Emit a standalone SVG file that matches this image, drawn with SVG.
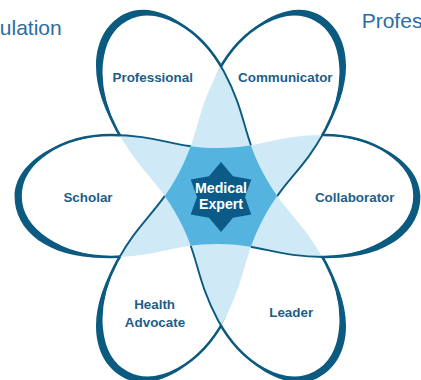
<svg xmlns="http://www.w3.org/2000/svg" xmlns:xlink="http://www.w3.org/1999/xlink" width="421" height="380" viewBox="0 0 421 380">
  <style>
    .outline { fill: none; stroke: #0b5a80; stroke-width: 2.6; }
    .inner { fill: none; stroke: #0b5a80; stroke-width: 1.9; }
    .tip { fill: #0b5a80; }
    .light { fill: #cfe9f6; }
    .mid { fill: #55b3df; }
    .star { fill: #0c5a87; }
    .label { font-family: "Liberation Sans", Arial, sans-serif; font-weight: bold; font-size: 13.4px; fill: #1d5e88; text-anchor: middle; }
    .core { font-family: "Liberation Sans", Arial, sans-serif; font-weight: bold; font-size: 14.2px; fill: #ffffff; text-anchor: middle; }
    .heading { font-family: "Liberation Sans", Arial, sans-serif; font-size: 21px; fill: #2b6ca3; }
  </style>
  <defs>
    <path id="shape" d="M -200 0 C -200 -33.7 -158.8 -61 -108 -61 C -60 -61 -45 -48 0 -48 C 45 -48 60 -61 108 -61 C 158.8 -61 200 -33.7 200 0 C 200 33.7 158.8 61 108 61 C 60 61 45 48 0 48 C -45 48 -60 61 -108 61 C -158.8 61 -200 33.7 -200 0 Z"/>
    <path id="tipA" d="M 100 -61 C 158.8 -61 200 -33.7 200 0 C 200 33.7 158.8 61 100 61 C 165 67 206.5 38 206 0 C 205.5 -34 160 -62.5 100 -61 Z"/>
    <path id="tipB" d="M 100 61 C 158.8 61 200 33.7 200 0 C 200 -33.7 158.8 -61 100 -61 C 165 -67 206.5 -38 206 0 C 205.5 34 160 62.5 100 61 Z"/>
    <path id="holed" clip-rule="evenodd" d="M -1000 -1000 H 1000 V 1000 H -1000 Z M -200 0 C -200 -33.7 -158.8 -61 -108 -61 C -60 -61 -45 -48 0 -48 C 45 -48 60 -61 108 -61 C 158.8 -61 200 -33.7 200 0 C 200 33.7 158.8 61 108 61 C 60 61 45 48 0 48 C -45 48 -60 61 -108 61 C -158.8 61 -200 33.7 -200 0 Z"/>
    <clipPath id="clipH"><use xlink:href="#shape" transform="translate(217.5 196) scale(0.985 1)"/></clipPath>
    <clipPath id="clipP"><use xlink:href="#shape" transform="translate(221 196) rotate(62)"/></clipPath>
    <clipPath id="clipC"><use xlink:href="#shape" transform="translate(221 196) rotate(-62)"/></clipPath>
    <clipPath id="outH"><use xlink:href="#holed" clip-rule="evenodd" transform="translate(217.5 196) scale(0.985 1)"/></clipPath>
    <clipPath id="outP"><use xlink:href="#holed" clip-rule="evenodd" transform="translate(221 196) rotate(62)"/></clipPath>
    <clipPath id="outC"><use xlink:href="#holed" clip-rule="evenodd" transform="translate(221 196) rotate(-62)"/></clipPath>
  </defs>

  <rect width="421" height="380" fill="#ffffff"/>

  <!-- light blue pairwise overlaps -->
  <g id="overlaps">
    <g clip-path="url(#clipC)"><use xlink:href="#shape" class="light" transform="translate(221 196) rotate(62)"/></g>
    <g clip-path="url(#clipH)"><use xlink:href="#shape" class="light" transform="translate(221 196) rotate(-62)"/></g>
    <g clip-path="url(#clipP)"><use xlink:href="#shape" class="light" transform="translate(217.5 196) scale(0.985 1)"/></g>
  </g>

  <!-- petal outlines (woven) -->
  <g id="ring-scholar-collaborator">
    <g clip-path="url(#outC)"><g clip-path="url(#outP)"><use xlink:href="#shape" class="outline" transform="translate(217.5 196) scale(0.985 1)"/></g></g>
    <g clip-path="url(#outC)"><g clip-path="url(#clipP)"><use xlink:href="#shape" class="inner" transform="translate(217.5 196) scale(0.985 1)"/></g></g>
    <use xlink:href="#tipA" class="tip" transform="translate(217.5 196) scale(0.985 1)"/>
    <use xlink:href="#tipB" class="tip" transform="translate(217.5 196) scale(0.985 1) rotate(180)"/>
  </g>
  <g id="ring-professional-leader">
    <g clip-path="url(#outH)"><g clip-path="url(#outC)"><use xlink:href="#shape" class="outline" transform="translate(221 196) rotate(62)"/></g></g>
    <g clip-path="url(#outH)"><g clip-path="url(#clipC)"><use xlink:href="#shape" class="inner" transform="translate(221 196) rotate(62)"/></g></g>
    <use xlink:href="#tipB" class="tip" transform="translate(221 196) rotate(62)"/>
    <use xlink:href="#tipB" class="tip" transform="translate(221 196) rotate(242)"/>
  </g>
  <g id="ring-communicator-advocate">
    <g clip-path="url(#outP)"><g clip-path="url(#outH)"><use xlink:href="#shape" class="outline" transform="translate(221 196) rotate(-62)"/></g></g>
    <g clip-path="url(#outP)"><g clip-path="url(#clipH)"><use xlink:href="#shape" class="inner" transform="translate(221 196) rotate(-62)"/></g></g>
    <use xlink:href="#tipA" class="tip" transform="translate(221 196) rotate(-62)"/>
    <use xlink:href="#tipA" class="tip" transform="translate(221 196) rotate(118)"/>
  </g>

  <!-- centre -->
  <g id="medical-expert">
    <g clip-path="url(#clipP)"><g clip-path="url(#clipC)"><use xlink:href="#shape" class="mid" transform="translate(217.5 196) scale(0.985 1)"/></g></g>
    <path class="star" d="M 221 162 L 233 176.2 L 251.3 179.5 L 245 197 L 251.3 214.5 L 233 217.8 L 221 232 L 209 217.8 L 190.7 214.5 L 197 197 L 190.7 179.5 L 209 176.2 Z"/>
    <text class="core" x="221" y="193.3">Medical</text>
    <text class="core" x="221" y="208.5">Expert</text>
  </g>

  <g id="professional"><text class="label" x="152.7" y="82">Professional</text></g>
  <g id="communicator"><text class="label" x="285.3" y="82">Communicator</text></g>
  <g id="scholar"><text class="label" x="88" y="201.5">Scholar</text></g>
  <g id="collaborator"><text class="label" x="354.7" y="201.5">Collaborator</text></g>
  <g id="health-advocate"><text class="label" x="154.6" y="309">Health</text><text class="label" x="155" y="326.7">Advocate</text></g>
  <g id="leader"><text class="label" x="291.2" y="317.3">Leader</text></g>

  <g id="connectors"/>

  <text class="heading" x="61.7" y="35" text-anchor="end">ulation</text>
  <text class="heading" x="361.7" y="28.3">Profess</text>
</svg>
